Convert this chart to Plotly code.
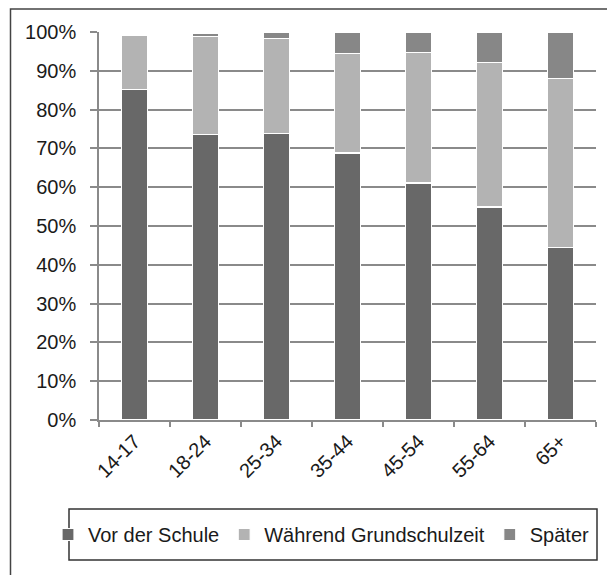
import plotly.graph_objects as go

categories = ["14-17", "18-24", "25-34", "35-44", "45-54", "55-64", "65+"]
vor_der_schule = [85.2, 73.5, 73.8, 68.8, 61.1, 54.9, 44.5]
waehrend_grundschulzeit = [13.9, 25.3, 24.6, 25.6, 33.7, 37.2, 43.5]
spaeter = [0.0, 0.9, 1.4, 5.6, 5.2, 7.9, 12.0]
series_names = ["Vor der Schule", "Während Grundschulzeit", "Später"]
y_ticks = [0, 10, 20, 30, 40, 50, 60, 70, 80, 90, 100]

colors = ["#686868", "#b3b3b3", "#878787"]

fig = go.Figure()
for name, vals, col in zip(series_names, [vor_der_schule, waehrend_grundschulzeit, spaeter], colors):
    fig.add_trace(go.Bar(
        x=categories, y=vals, name=name,
        marker=dict(color=col, line=dict(color="white", width=1.2)),
    ))

# the page body has an 8px margin; figure coordinates are screen - 8
W, H = 607, 567
L, R, T, B = 91, 19, 24, 155
pw = W - L - R
ph = H - T - B

def px2x(px):
    return (px - L) / pw

def py2y(py):
    return (H - B - py) / ph

fig.update_layout(
    width=W, height=H,
    margin=dict(l=L, r=R, t=T, b=B, autoexpand=False),
    barmode="stack",
    bargap=0.644,
    paper_bgcolor="white",
    plot_bgcolor="white",
    font=dict(family="Liberation Sans, Arial, sans-serif", size=20, color="#1a1a1a"),
    showlegend=True,
    legend=dict(
        orientation="h",
        x=px2x(40), xanchor="left",
        y=py2y(526.5), yanchor="middle",
        borderwidth=0,
        bgcolor="rgba(0,0,0,0)",
        font=dict(size=20),
        traceorder="normal",
        itemwidth=30,
    ),
    xaxis=dict(
        tickangle=-45,
        tickfont=dict(size=20),
        showline=True, linecolor="#8a8a8a", linewidth=1.5,
        ticks="outside", ticklen=5, tickcolor="#8a8a8a", tickwidth=1.5,
        tickson="boundaries",
        showgrid=False,
    ),
    yaxis=dict(
        range=[0, 100],
        tickvals=y_ticks,
        ticktext=[f"{v}%" for v in y_ticks],
        tickfont=dict(size=20),
        showline=True, linecolor="#8a8a8a", linewidth=1.5,
        ticks="outside", ticklen=7, tickcolor="#8a8a8a", tickwidth=1.5,
        ticklabelstandoff=10,
        showgrid=True, gridcolor="#8a8a8a", gridwidth=1.5,
        zeroline=False,
    ),
    shapes=[
        dict(
            type="rect", xref="paper", yref="paper",
            x0=px2x(2.5), x1=px2x(605), y0=py2y(572), y1=py2y(1),
            line=dict(color="#444444", width=1.5), fillcolor="rgba(0,0,0,0)", layer="below",
        ),
        dict(
            type="rect", xref="paper", yref="paper",
            x0=px2x(61), x1=px2x(589), y0=py2y(552), y1=py2y(501),
            line=dict(color="#333333", width=1.5), fillcolor="rgba(0,0,0,0)", layer="below",
        ),
    ],
)

fig.write_html("out.html")
